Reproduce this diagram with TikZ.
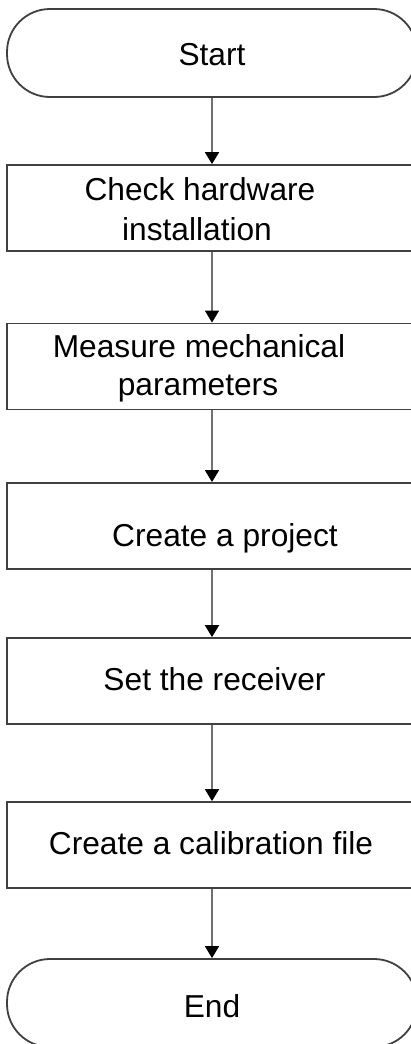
\documentclass[tikz,border=0pt]{standalone}
\usepackage{fontspec}
\setmainfont{Liberation Sans}
\usetikzlibrary{arrows.meta}
\definecolor{edgegray}{HTML}{404040}
\definecolor{linegray}{HTML}{707070}
\begin{document}
\begin{tikzpicture}[x=1pt,y=-1pt,
  box/.style={draw=edgegray, line width=1.8pt, minimum width=410pt, minimum height=86pt, inner sep=0pt, fill=white},
  term/.style={box, minimum height=88pt, rounded corners=43pt},
  txt/.style={anchor=base, inner sep=0pt, font=\fontsize{31.7}{38}\selectfont, text=black},
  flow/.style={draw=linegray, line width=1.8pt, -{Triangle[length=12pt,width=14pt,color=black]}}
]
\useasboundingbox (0,0) rectangle (411,1044);
\begin{scope}
\clip (0,0) rectangle (411,1044);
\node[term] (start) at (212,53) {};
\node[box] (b1) at (212,208) {};
\node[box] (b2) at (212,366.5) {};
\node[box] (b3) at (212,526) {};
\node[box] (b4) at (212,681) {};
\node[box] (b5) at (212,845) {};
\node[term] (end) at (212,1003) {};

\node[txt] (tstart) at (212,65) {Start};
\node[txt] (t1a) at (200,200) {Check hardware};
\node[txt] (t1b) at (197,240) {installation};
\node[txt] (t2a) at (199,357) {Measure mechanical};
\node[txt] (t2b) at (198,395) {parameters};
\node[txt] (t3) at (225,546) {Create a project};
\node[txt] (t4) at (214.5,690) {Set the receiver};
\node[txt] (t5) at (211,854) {Create a calibration file};
\node[txt] (tend) at (212,1017) {End};

\draw[flow] (start.south) -- (b1.north);
\draw[flow] (b1.south) -- (b2.north);
\draw[flow] (b2.south) -- (b3.north);
\draw[flow] (b3.south) -- (b4.north);
\draw[flow] (b4.south) -- (b5.north);
\draw[flow] (b5.south) -- (end.north);
\end{scope}
\end{tikzpicture}
\end{document}
